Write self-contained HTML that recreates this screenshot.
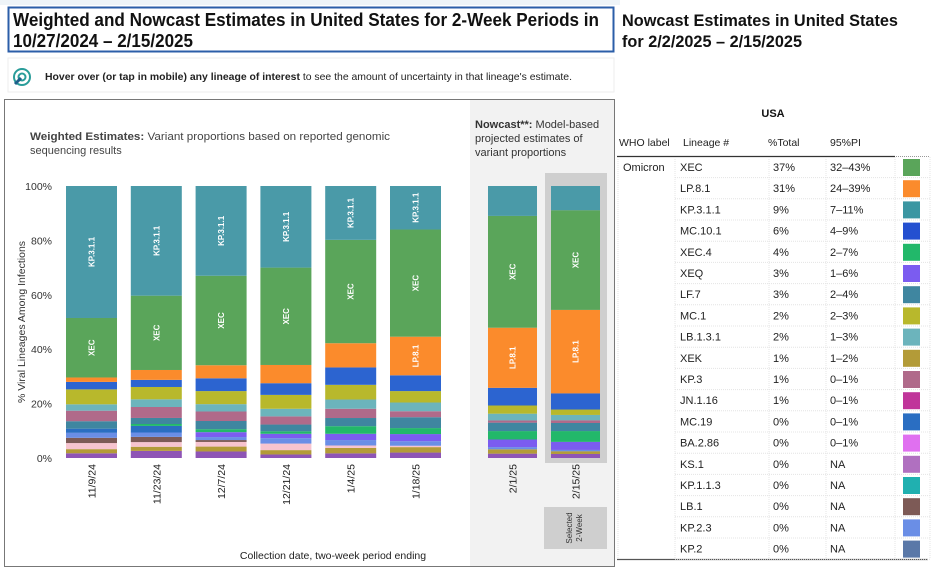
<!DOCTYPE html>
<html><head><meta charset="utf-8"><style>
body{margin:0;background:#fff;font-family:"Liberation Sans",Arial,sans-serif;}
svg text{font-family:"Liberation Sans",Arial,sans-serif;}
</style></head><body>
<svg id="s" width="936" height="574" viewBox="0 0 936 574" xmlns="http://www.w3.org/2000/svg">
<rect x="0" y="0" width="936" height="574" fill="#fff"/>
<rect x="0" y="0" width="620" height="5" fill="#eef4f8"/>
<rect x="8.5" y="7.5" width="605" height="44" fill="#fff" stroke="#2b5ea8" stroke-width="2"/>
<text x="13" y="26" font-size="18" font-weight="bold" fill="#111" textLength="586" lengthAdjust="spacingAndGlyphs">Weighted and Nowcast Estimates in United States for 2-Week Periods in</text>
<text x="13" y="47" font-size="18" font-weight="bold" fill="#111" textLength="180" lengthAdjust="spacingAndGlyphs">10/27/2024 – 2/15/2025</text>
<rect x="8" y="58" width="606" height="34" fill="#fff" stroke="#eee"/>
<g><circle cx="22" cy="77" r="8" fill="none" stroke="#2a9d9a" stroke-width="2"/><circle cx="22" cy="77" r="3.5" fill="none" stroke="#2a9d9a" stroke-width="2"/><path d="M15 84 L21 78" stroke="#1e5f8a" stroke-width="3"/></g>
<text x="45" y="80" font-size="10.5" fill="#222" textLength="527" lengthAdjust="spacingAndGlyphs"><tspan font-weight="bold">Hover over (or tap in mobile) any lineage of interest</tspan> to see the amount of uncertainty in that lineage's estimate.</text>
<rect x="4.5" y="99.5" width="610" height="467" fill="#fff" stroke="#777"/>
<rect x="470" y="100" width="144" height="466" fill="#f2f2f2"/>
<text x="30" y="140" font-size="11" fill="#444" textLength="360" lengthAdjust="spacingAndGlyphs"><tspan font-weight="bold">Weighted Estimates:</tspan> Variant proportions based on reported genomic</text>
<text x="30" y="154" font-size="11" fill="#444">sequencing results</text>
<text x="475" y="128" font-size="11" fill="#333"><tspan font-weight="bold">Nowcast**:</tspan> Model-based</text>
<text x="475" y="142" font-size="11" fill="#333">projected estimates of</text>
<text x="475" y="156" font-size="11" fill="#333">variant proportions</text>
<rect x="545" y="173" width="62" height="290" fill="#cfcfcf"/>
<rect x="544" y="507" width="63" height="42" fill="#cfcfcf"/>
<text transform="translate(572,528) rotate(-90)" font-size="8" fill="#333" text-anchor="middle">Selected</text>
<text transform="translate(582,528) rotate(-90)" font-size="8" fill="#333" text-anchor="middle">2-Week</text>
<text transform="translate(25,322) rotate(-90)" font-size="10.5" fill="#333" text-anchor="middle">% Viral Lineages Among Infections</text>
<text x="333" y="559" font-size="10.5" fill="#222" text-anchor="middle">Collection date, two-week period ending</text>
<g id="plot"></g>
<text x="622" y="26" font-size="16.5" font-weight="bold" fill="#111" textLength="276" lengthAdjust="spacingAndGlyphs">Nowcast Estimates in United States</text>
<text x="622" y="47" font-size="16.5" font-weight="bold" fill="#111" textLength="180" lengthAdjust="spacingAndGlyphs">for 2/2/2025 – 2/15/2025</text>
<text x="773" y="117" font-size="11" font-weight="bold" fill="#111" text-anchor="middle">USA</text>
<g font-size="10.5" fill="#222">
<text x="619" y="146">WHO label</text><text x="683" y="146">Lineage #</text><text x="768" y="146">%Total</text><text x="830" y="146">95%PI</text></g>
<line x1="617" y1="156.5" x2="895" y2="156.5" stroke="#333" stroke-width="1.2"/>
<line x1="896" y1="156.5" x2="930" y2="156.5" stroke="#999" stroke-dasharray="1,1"/>
<line x1="617" y1="559.5" x2="928" y2="559.5" stroke="#555" stroke-width="1.2"/>
<text x="623" y="171" font-size="11" fill="#222">Omicron</text>
<g id="table"></g>
</svg>
<script>
const NS='http://www.w3.org/2000/svg';
const dates=['11/9/24','11/23/24','12/7/24','12/21/24','1/4/25','1/18/25','2/1/25','2/15/25'];
const lineages=['Other','XEK','Pink','LB.1','KP.2.3','MC.19','XEQ','XEC.4','LF.7','KP.3','LB.1.3.1','MC.1','MC.10.1','LP.8.1','XEC','KP.3.1.1'];
const colors=['#8e55b5','#b39b38','#f7c4cf','#7d5a56','#6a8ee6','#2a6ec2','#7b5cf0','#22b86a','#3f86a0','#b06a8a','#6cb4bc','#b8b82c','#2c64d0','#fb8b2c','#5aa55a','#4a9aa8'];
const p0=[1.7,1.5,2.2,1.9,1.8,1.5,0,0,2.7,3.8,2.3,5.4,2.7,1.6,21.5,47.7];
const p1=[2.6,1.5,1.7,1.9,1.6,2.4,0,0.7,2.2,4.0,2.8,4.5,2.6,3.6,27.1,40.0];
const p2=[2.4,1.8,1.7,0.7,1.1,0,1.8,1.1,3.0,3.5,2.7,4.8,4.7,4.8,32.9,33.0];
const p3=[1.3,1.6,2.4,0,2.0,0,1.6,0.9,2.5,3.0,2.8,5.1,4.3,6.7,35.8,30.0];
const p4=[1.7,2.0,0.9,0,2.0,0,2.3,2.8,3.0,3.4,3.4,5.4,6.4,8.9,38.0,19.8];
const p5=[2.0,2.0,0.5,0,1.7,0,2.6,2.2,4.0,2.2,3.2,4.2,5.8,14.2,39.4,16.0];
const p6=[1.6,1.6,0,0,0.8,0,2.8,3.1,3.1,0.8,2.5,3.0,6.5,22.1,41.1,11.0];
const p7=[1.5,1.0,0,0,0.5,0,3.0,4.0,3.0,1.0,2.0,2.0,6.0,31.0,37.0,9.0];
const yTicks=[0,20,40,60,80,100];
const tableLineage=['XEC','LP.8.1','KP.3.1.1','MC.10.1','XEC.4','XEQ','LF.7','MC.1','LB.1.3.1','XEK','KP.3','JN.1.16','MC.19','BA.2.86','KS.1','KP.1.1.3','LB.1','KP.2.3','KP.2'];
const tablePct=['37%','31%','9%','6%','4%','3%','3%','2%','2%','1%','1%','1%','0%','0%','0%','0%','0%','0%','0%'];
const tablePI=['32–43%','24–39%','7–11%','4–9%','2–7%','1–6%','2–4%','2–3%','1–3%','1–2%','0–1%','0–1%','0–1%','0–1%','NA','NA','NA','NA','NA'];
const tableColors=['#5aa55a','#fb8b2c','#3b96a2','#2450d0','#22b86a','#7b5cf0','#3f86a0','#b8b82c','#6cb4bc','#b39b38','#b06a8a','#c0359a','#2a6ec2','#e070f0','#b070c0','#20b0b0','#7d5a56','#6a8ee6','#5a78a8'];
const series=[p0,p1,p2,p3,p4,p5,p6,p7];
const Y0=458,Y1=186;
function y(v){return Y0-(Y0-Y1)*v/100;}
function xBar(i){return i<6?66+i*64.8:488+(i-6)*63;}
const BW=51;
const g=document.getElementById('plot');
function mk(t,a){const e=document.createElementNS(NS,t);for(const k in a)e.setAttribute(k,a[k]);return e;}
yTicks.forEach(t=>{const e=mk('text',{x:52,y:y(t)+4,'font-size':10.5,fill:'#333','text-anchor':'end'});e.textContent=t+'%';


g.appendChild(e);});
series.forEach((vals,i)=>{
  const tot=vals.reduce((a,b)=>a+b,0);let c=0;const x=xBar(i);const w=i<6?BW:49;
  vals.forEach((v,j)=>{ if(v<=0)return; const a=c/tot*100,b=(c+v)/tot*100;c+=v;
    const r=mk('rect',{x:x,y:y(b),width:w,height:y(a)-y(b),fill:colors[j]});
    
    
    g.appendChild(r);
    if((j===15&&v>15)||(j===14)||(j===13&&v>10)){const lab=j===15?'KP.3.1.1':(j===14?'XEC':'LP.8.1');
      const cy=(y(a)+y(b))/2;const tx=mk('text',{transform:`translate(${x+w/2+3},${cy}) rotate(-90)`,'font-size':8,fill:'#fff','text-anchor':'middle','font-weight':'bold'});
      tx.textContent=lab;
      
      
      g.appendChild(tx);}
  });
  const d=mk('text',{transform:`translate(${x+w/2+4},464) rotate(-90)`,'font-size':10.5,fill:'#222','text-anchor':'end'});
  d.textContent=dates[i];
  
  
  g.appendChild(d);
});
const tb=document.getElementById('table');
tableLineage.forEach((l,i)=>{
  const cy=167+i*21.2;
  const row=mk('g',{'font-size':11,fill:'#222'});
  
  
  const t1=mk('text',{x:680,y:cy+4});t1.textContent=l;row.appendChild(t1);
  const t2=mk('text',{x:773,y:cy+4});t2.textContent=tablePct[i];row.appendChild(t2);
  const t3=mk('text',{x:830,y:cy+4});t3.textContent=tablePI[i];row.appendChild(t3);
  row.appendChild(mk('rect',{x:903,y:cy-8,width:17,height:17,fill:tableColors[i]}));
  row.appendChild(mk('line',{x1:675,y1:cy+10.6,x2:930,y2:cy+10.6,stroke:'#e4e4e4','stroke-dasharray':'1,1'}));
  tb.appendChild(row);
});
[675,769,826,895,930].forEach(x=>tb.appendChild(mk('line',{x1:x,y1:157,x2:x,y2:559,stroke:'#e4e4e4','stroke-dasharray':'1,1'})));
tb.appendChild(mk('line',{x1:618,y1:157,x2:618,y2:559,stroke:'#e4e4e4','stroke-dasharray':'1,1'}));
</script>
</body></html>
